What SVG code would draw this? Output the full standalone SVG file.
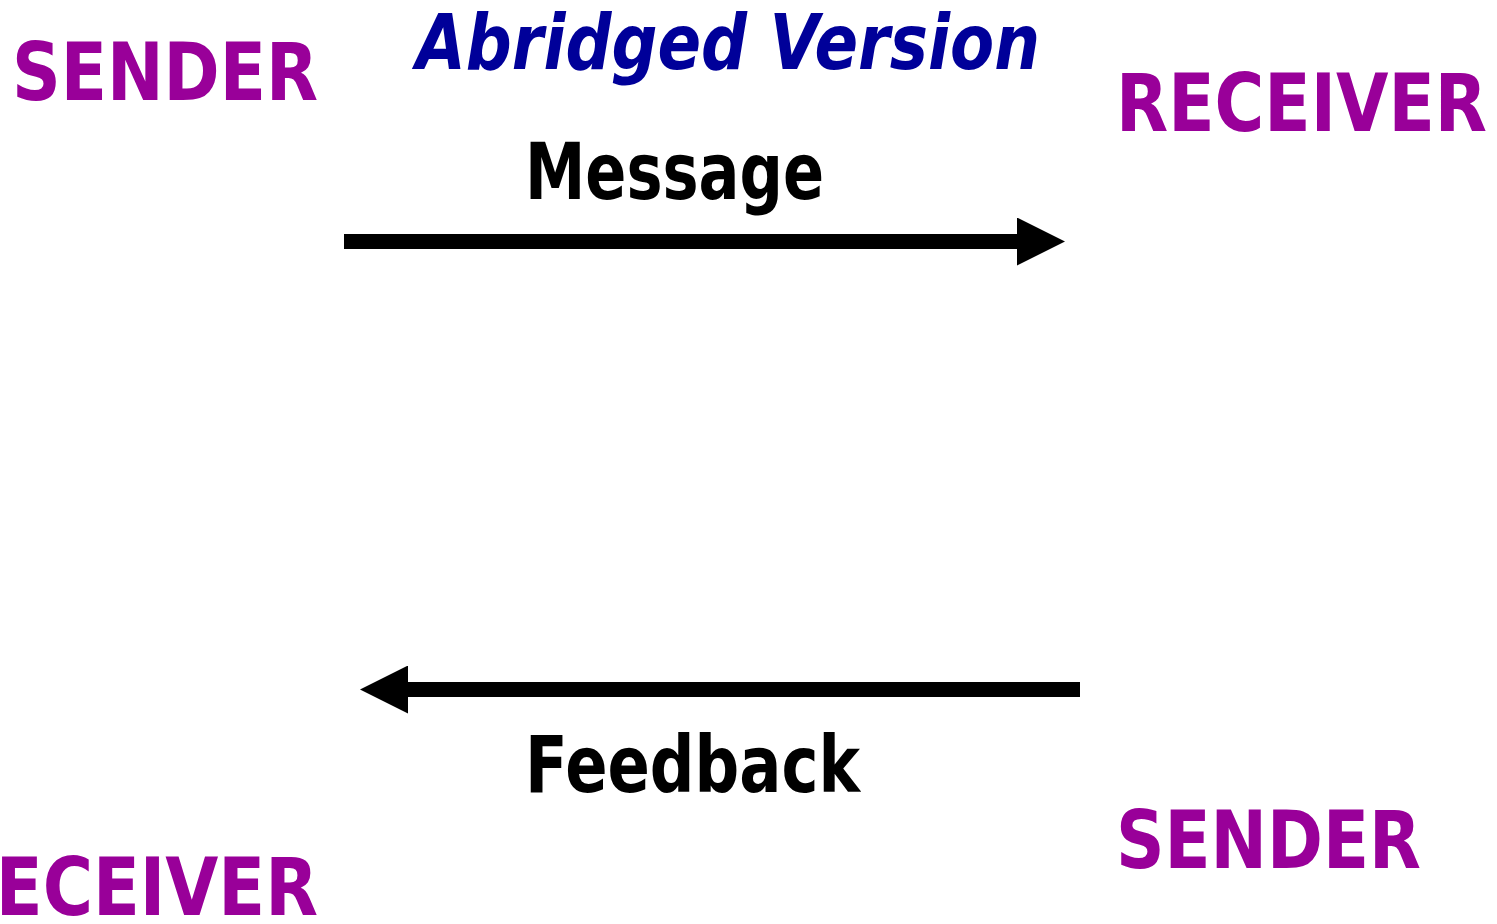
<svg xmlns="http://www.w3.org/2000/svg" width="1497" height="924" viewBox="0 0 1497 924">
  <style>
    .role { font-family: "DejaVu Sans", "Liberation Sans", sans-serif; font-weight: bold; font-size: 80px; fill: #990099; }
    .label { font-family: "DejaVu Sans", "Liberation Sans", sans-serif; font-weight: bold; font-size: 79px; fill: #000000; }
    .title { font-family: "DejaVu Sans", "Liberation Sans", sans-serif; font-weight: bold; font-style: italic; font-size: 76px; fill: #000099; }
    .shaft { stroke: #000000; stroke-width: 15; fill: none; }
  </style>
  <defs>
    <marker id="head" markerUnits="userSpaceOnUse" viewBox="0 0 48 48" markerWidth="48" markerHeight="48" refX="0" refY="24" orient="auto">
      <path d="M0,0 L48,24 L0,48 Z" fill="#000000"/>
    </marker>
  </defs>
  <rect width="1497" height="924" fill="#ffffff"/>

  <g id="title">
    <text class="title" x="416" y="69" textLength="624" lengthAdjust="spacingAndGlyphs">Abridged Version</text>
  </g>

  <g id="sender-top">
    <text class="role" x="12" y="100" textLength="306" lengthAdjust="spacingAndGlyphs">SENDER</text>
  </g>

  <g id="receiver-top">
    <text class="role" x="1116" y="131" textLength="371" lengthAdjust="spacingAndGlyphs">RECEIVER</text>
  </g>

  <g id="sender-bottom">
    <text class="role" x="1116" y="868" textLength="305" lengthAdjust="spacingAndGlyphs">SENDER</text>
  </g>

  <!-- runs off the left edge of the page, so only part of the word shows -->
  <g id="receiver-bottom">
    <text class="role" x="-57" y="915" textLength="375" lengthAdjust="spacingAndGlyphs">RECEIVER</text>
  </g>

  <g id="connectors">
    <line class="shaft" x1="344" y1="241.5" x2="1017" y2="241.5" marker-end="url(#head)"/>
    <text class="label" x="525" y="199" textLength="299" lengthAdjust="spacingAndGlyphs">Message</text>
    <line class="shaft" x1="1080" y1="689.5" x2="408" y2="689.5" marker-end="url(#head)"/>
    <text class="label" x="525" y="792" textLength="335" lengthAdjust="spacingAndGlyphs">Feedback</text>
  </g>
</svg>
